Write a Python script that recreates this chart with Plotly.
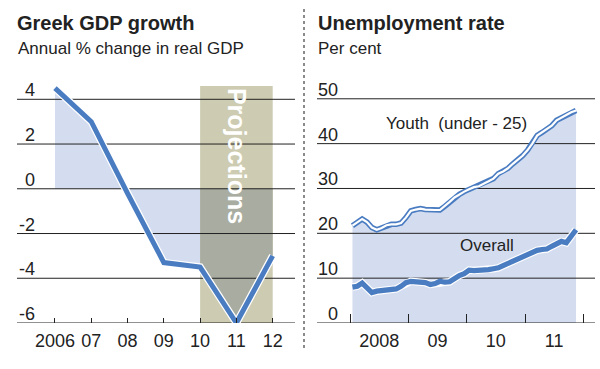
import plotly.graph_objects as go

# ---------------- data ----------------
gdp_years = [2006, 2007, 2008, 2009, 2010, 2011, 2012]
gdp_growth = [4.5, 3.0, -0.2, -3.3, -3.5, -6.0, -3.0]
gdp_tick_text = ["2006", "07", "08", "09", "10", "11", "12"]
gdp_y_ticks = [-6, -4, -2, 0, 2, 4]
proj_start, proj_end, proj_top = 2010, 2012, 4.6

months = list(range(47))  # Jan 2008 .. Nov 2011
youth = [21.7, 22.5, 23.2, 22.5, 21.3, 20.8, 21.2, 21.8, 22.0, 22.0, 22.3, 23.5,
         25.0, 25.3, 25.5, 25.3, 25.2, 25.2, 25.2, 26.0, 27.0, 28.0, 28.7, 29.3,
         29.8, 30.3, 30.5, 31.0, 31.6, 32.2, 33.3, 33.8, 34.5, 35.5, 36.3, 37.3,
         38.5, 40.0, 41.8, 42.5, 43.2, 44.0, 45.2, 45.8, 46.3, 47.0, 47.4]
overall = [8.0, 8.2, 8.9, 7.8, 6.8, 7.1, 7.2, 7.3, 7.5, 7.6, 8.2, 9.0,
           9.3, 9.2, 9.2, 9.0, 8.6, 8.8, 9.3, 9.1, 9.2, 10.0, 10.6, 11.0,
           11.8, 11.7, 11.7, 11.8, 11.9, 12.1, 12.3, 12.8, 13.3, 13.8, 14.4, 15.0,
           15.4, 15.8, 16.2, 16.4, 16.5, 17.1, 17.6, 18.2, 17.9, 19.2, 20.8]
unemp_x = [2008 + (m + 0.5) / 12 for m in months]
unemp_y_ticks = [0, 10, 20, 30, 40, 50]
unemp_year_ticks = [2008, 2009, 2010, 2011, 2012]
unemp_label_pos = [2008.5, 2009.5, 2010.5, 2011.5]
unemp_label_text = ["2008", "09", "10", "11"]

# ---------------- style ----------------
BLUE = "#4a7cc2"
FILL = "#d4ddef"
BOX = "#cdcbb1"
OVER = "#a9ada1"
INK = "#222222"
FONT = "Liberation Sans"

L_XR = [2004.953, 2012.615]
L_YR = [-6, 4.863]
R_XR = [2007.434, 2012.2]
R_YR = [0, 54.19]
YDOM = [1 - 323 / 369, 1 - 80 / 369]

fig = go.Figure()

# ---- left panel ----
i10 = gdp_years.index(proj_start)
fig.add_trace(go.Scatter(x=gdp_years[:i10 + 1], y=gdp_growth[:i10 + 1], fill="tozeroy",
                         fillcolor=FILL, mode="lines", line=dict(width=0),
                         xaxis="x", yaxis="y", hoverinfo="skip"))
fig.add_trace(go.Scatter(x=gdp_years[i10:], y=gdp_growth[i10:], fill="tozeroy",
                         fillcolor=OVER, mode="lines", line=dict(width=0),
                         xaxis="x", yaxis="y", hoverinfo="skip"))
for v in gdp_y_ticks:
    fig.add_trace(go.Scatter(x=L_XR, y=[v, v], mode="lines",
                             line=dict(color=INK, width=1), xaxis="x", yaxis="y",
                             hoverinfo="skip"))
fig.add_trace(go.Scatter(x=gdp_years, y=gdp_growth, mode="lines",
                         line=dict(color="white", width=7.5), xaxis="x", yaxis="y"))
fig.add_trace(go.Scatter(x=gdp_years, y=gdp_growth, mode="lines",
                         line=dict(color=BLUE, width=5), xaxis="x", yaxis="y"))

# ---- right panel ----
fig.add_trace(go.Scatter(x=unemp_x, y=youth, fill="tozeroy", fillcolor=FILL,
                         mode="lines", line=dict(width=0), xaxis="x2", yaxis="y2",
                         hoverinfo="skip"))
for v in unemp_y_ticks:
    fig.add_trace(go.Scatter(x=R_XR, y=[v, v], mode="lines",
                             line=dict(color=INK, width=1), xaxis="x2", yaxis="y2",
                             hoverinfo="skip"))
fig.add_trace(go.Scatter(x=unemp_x, y=youth, mode="lines",
                         line=dict(color=BLUE, width=5.5), xaxis="x2", yaxis="y2"))
fig.add_trace(go.Scatter(x=unemp_x, y=youth, mode="lines",
                         line=dict(color="white", width=2.2), xaxis="x2", yaxis="y2"))
fig.add_trace(go.Scatter(x=unemp_x, y=overall, mode="lines",
                         line=dict(color="white", width=7.5), xaxis="x2", yaxis="y2"))
fig.add_trace(go.Scatter(x=unemp_x, y=overall, mode="lines",
                         line=dict(color=BLUE, width=5.2), xaxis="x2", yaxis="y2"))

tickfont = dict(family=FONT, size=18, color=INK)

fig.update_layout(
    width=600, height=369, showlegend=False,
    margin=dict(l=0, r=0, t=0, b=0),
    paper_bgcolor="white", plot_bgcolor="rgba(0,0,0,0)",
    xaxis=dict(domain=[17 / 600, 295 / 600], range=L_XR, showgrid=False,
               zeroline=False, showline=False, tickmode="array",
               tickvals=gdp_years, ticktext=gdp_tick_text, ticks="inside",
               ticklen=5, tickcolor=INK, tickwidth=1, tickfont=tickfont,
               ticklabelstandoff=5),
    yaxis=dict(domain=YDOM, range=L_YR, showgrid=False, zeroline=False,
               showline=False, showticklabels=False),
    xaxis2=dict(domain=[317 / 600, 595 / 600], range=R_XR, showgrid=False,
                zeroline=False, showline=False, tickmode="array",
                tickvals=unemp_label_pos, ticktext=unemp_label_text, ticks="",
                tickfont=tickfont, ticklabelstandoff=5,
                minor=dict(tickmode="array", tickvals=unemp_year_ticks,
                           ticks="inside", ticklen=9, tickcolor=INK, tickwidth=1.3)),
    yaxis2=dict(domain=YDOM, range=R_YR, showgrid=False, zeroline=False,
                showline=False, showticklabels=False, anchor="x2"),
)

# projections box
fig.add_shape(type="rect", xref="x", yref="y", x0=proj_start, x1=proj_end,
              y0=L_YR[0], y1=proj_top, fillcolor=BOX, line=dict(width=0),
              layer="below")

# separator
fig.add_shape(type="line", xref="paper", yref="paper", x0=304 / 600, x1=304 / 600,
              y0=1 - 348 / 369, y1=1 - 8 / 369,
              line=dict(color="#666666", width=1.5, dash="dot"))

ann = []
# y tick labels
for v in gdp_y_ticks:
    ann.append(dict(xref="paper", yref="y", x=37 / 600, y=v, text=str(v),
                    xanchor="right", yanchor="bottom", showarrow=False,
                    font=tickfont, yshift=-3))
for v in unemp_y_ticks:
    ann.append(dict(xref="paper", yref="y2", x=340 / 600, y=v, text=str(v),
                    xanchor="right", yanchor="bottom", showarrow=False,
                    font=tickfont, yshift=-3))
# titles
ann += [
    dict(xref="paper", yref="paper", x=15 / 600, y=1 - 23 / 369, text="<b>Greek GDP growth</b>",
         xanchor="left", yanchor="middle", showarrow=False,
         font=dict(family=FONT, size=20, color=INK)),
    dict(xref="paper", yref="paper", x=16 / 600, y=1 - 48 / 369, text="Annual % change in real GDP",
         xanchor="left", yanchor="middle", showarrow=False,
         font=dict(family=FONT, size=17, color=INK)),
    dict(xref="paper", yref="paper", x=316 / 600, y=1 - 23 / 369, text="<b>Unemployment rate</b>",
         xanchor="left", yanchor="middle", showarrow=False,
         font=dict(family=FONT, size=20, color=INK)),
    dict(xref="paper", yref="paper", x=316 / 600, y=1 - 48 / 369, text="Per cent",
         xanchor="left", yanchor="middle", showarrow=False,
         font=dict(family=FONT, size=17, color=INK)),
    dict(xref="x", yref="y", x=(proj_start + proj_end) / 2, y=1.45, text="<b>Projections</b>",
         textangle=90, showarrow=False, font=dict(family=FONT, size=25, color="white")),
    dict(xref="x2", yref="y2", x=2009.83, y=44.4, text="Youth  (under - 25)",
         showarrow=False, font=dict(family=FONT, size=17, color=INK)),
    dict(xref="x2", yref="y2", x=2010.35, y=17.2, text="Overall",
         showarrow=False, font=dict(family=FONT, size=17, color=INK)),
]
fig.update_layout(annotations=ann)

fig.write_html("out.html", config={"displayModeBar": False},
               post_script="document.body.style.margin='0';document.body.style.padding='0';")
